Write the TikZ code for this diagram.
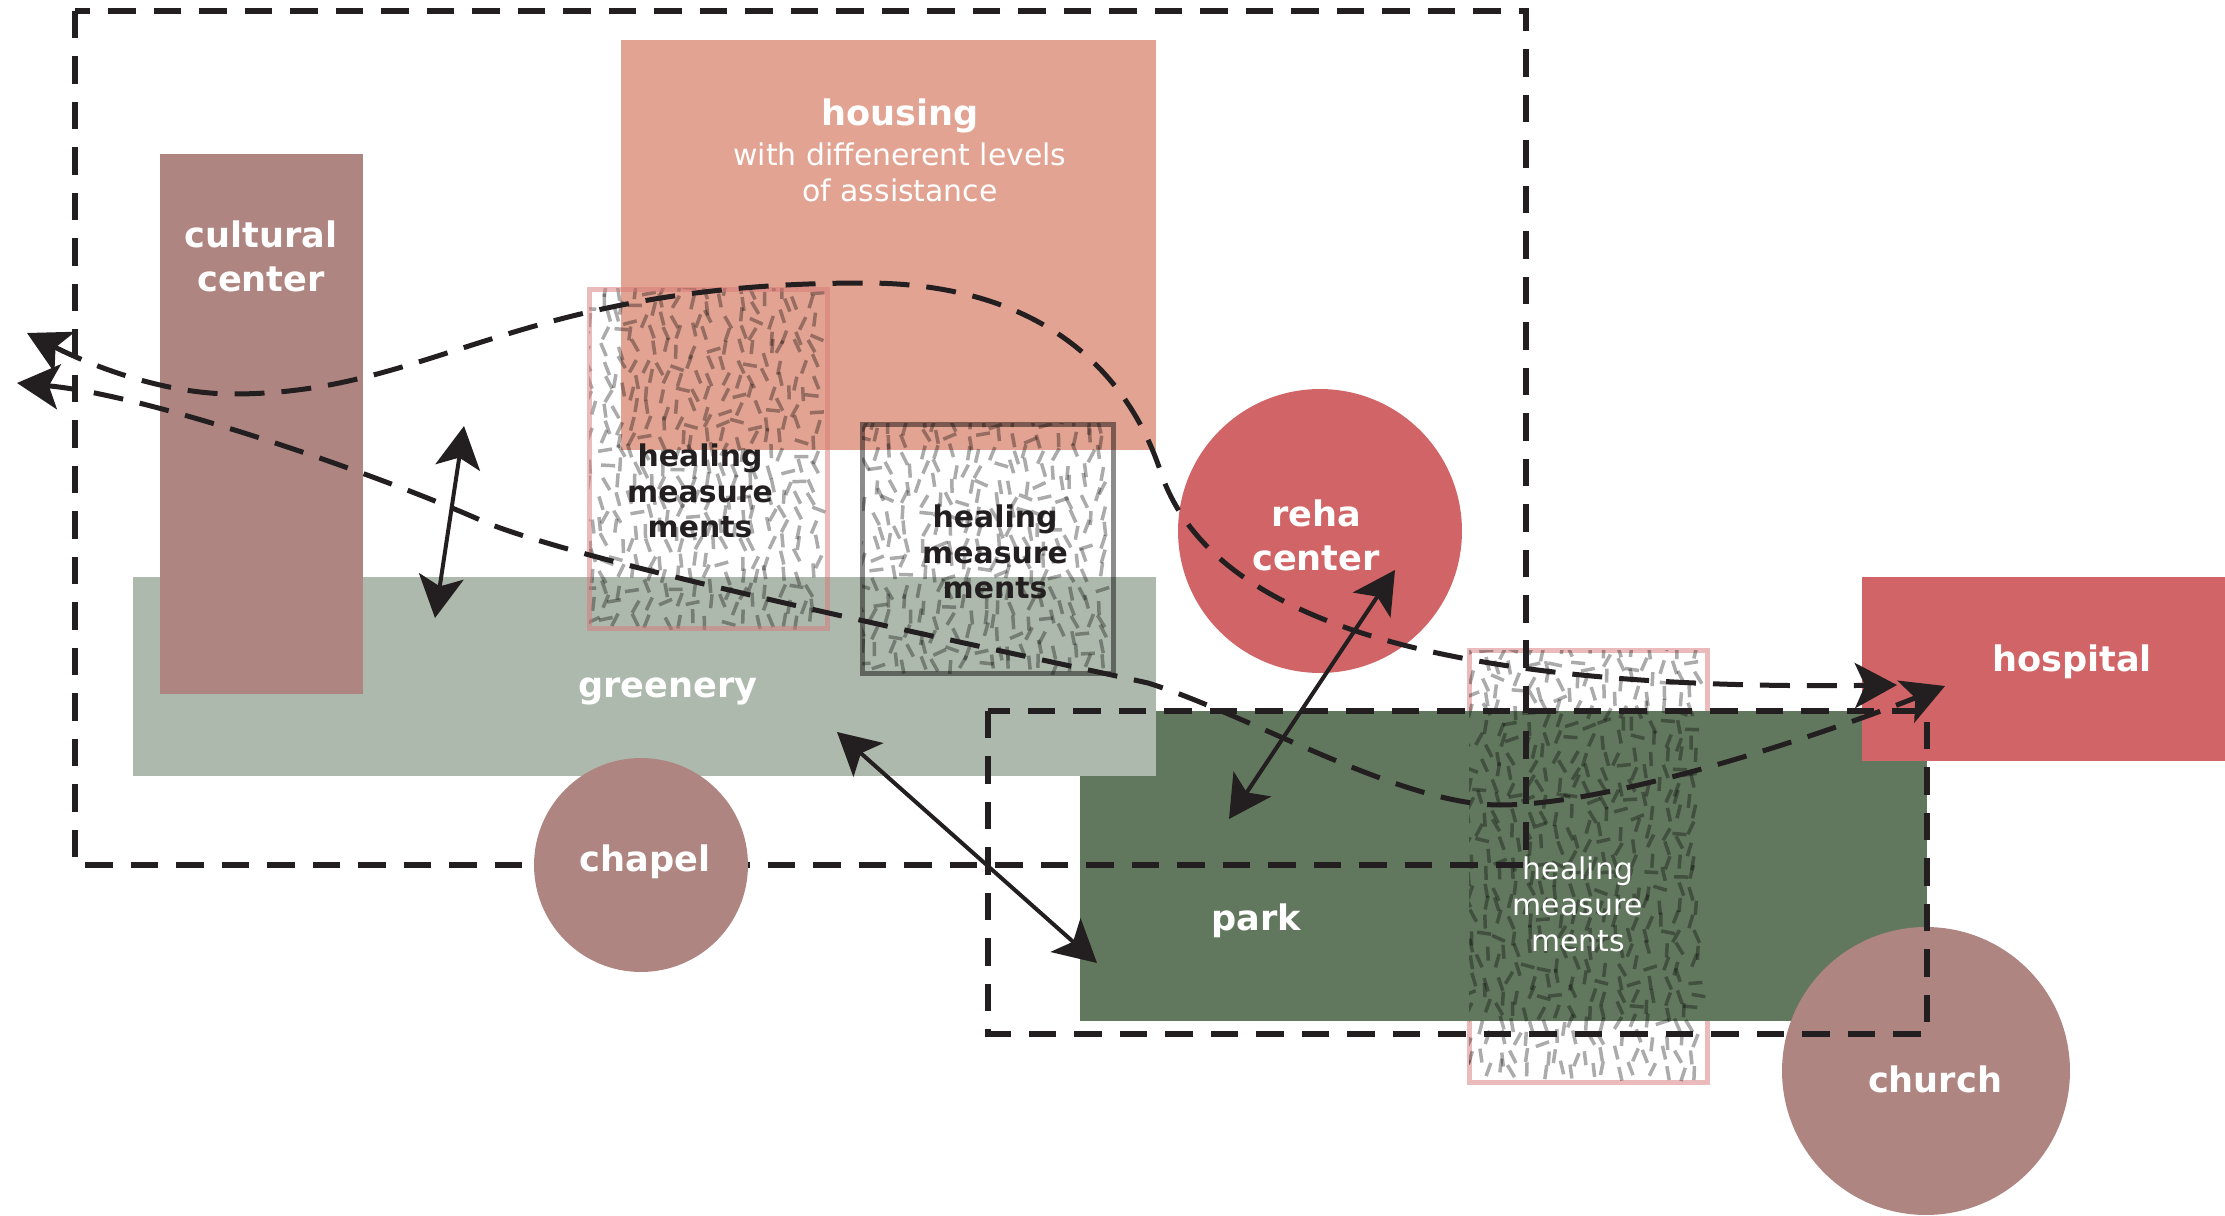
\documentclass[tikz,border=0pt]{standalone}
\usepackage{fontspec}
\setmainfont{DejaVu Sans}
\usetikzlibrary{arrows.meta}

\definecolor{ink}{HTML}{231F20}
\definecolor{housingc}{HTML}{E2A392}
\definecolor{mauve}{HTML}{AE8580}
\definecolor{greenc}{HTML}{AEB9AD}
\definecolor{parkc}{HTML}{62785E}
\definecolor{redc}{HTML}{D16466}
\definecolor{healpink}{HTML}{D77878}

\tikzset{
  bigtip/.tip={Stealth[length=0.84cm,width=0.9cm,inset=0.2cm]},
  area/.style={rectangle, inner sep=0pt, outer sep=0pt},
  disc/.style={circle, inner sep=0pt, outer sep=0pt},
  healbox/.style={area, line width=0.1cm, draw opacity=0.5},
  zone/.style={draw=ink, line width=0.11cm, dash pattern=on 0.55cm off 0.36cm},
  flow/.style={ink, line width=0.1cm, dash pattern=on 0.6cm off 0.34cm, bigtip-bigtip},
  link/.style={ink, line width=0.08cm, bigtip-bigtip},
  healmark/.style={black, opacity=0.33, line width=0.07cm},
  lab/.style={text=white, align=center, font=\bfseries\fontsize{20}{25}\selectfont},
  sublab/.style={text=white, align=center, font=\fontsize{17}{20.5}\selectfont},
  healtext/.style={text=ink, align=center, font=\bfseries\fontsize{17}{20}\selectfont}
}

% textura de las medidas curativas
\newcommand{\healfill}[4]{%
  \begin{scope}
    \clip (#1,#2) rectangle (#3,#4);
    \pgfmathtruncatemacro{\nx}{(#3-#1)/15}
    \pgfmathtruncatemacro{\ny}{(#4-#2)/15}
    \foreach \i in {0,...,\nx}{
      \foreach \j in {0,...,\ny}{
        \pgfmathsetmacro{\hx}{#1+15*\i+5*rand}
        \pgfmathsetmacro{\hy}{#2+15*\j+5*rand}
        \pgfmathsetmacro{\ha}{rnd<0.15 ? 25*rand : 90+32*rand}
        \draw[healmark] (\hx,\hy) ++(\ha:7) -- ++(\ha:-14);
      }
    }
  \end{scope}}

\begin{document}
\begin{tikzpicture}[x=0.02cm, y=-0.02cm]
    \pgfmathsetseed{12}
    \useasboundingbox (0,0) rectangle (2225,1216);

    % Borde bajo el parque
    \node[healbox, draw=healpink, minimum width=4.78cm, minimum height=8.66cm] (heal3) at (1588.5,866.5) {};

    % Zonas
    \node[area, fill=parkc, minimum width=16.94cm, minimum height=6.2cm] (park) at (1503.5,866) {};
    \node[area, fill=housingc, minimum width=10.7cm, minimum height=8.2cm] (housing) at (888.5,245) {};
    \node[area, fill=greenc, minimum width=20.46cm, minimum height=3.98cm] (greenery) at (644.5,676.5) {};
    \node[area, fill=mauve, minimum width=4.06cm, minimum height=10.8cm] (cultural) at (261.5,424) {};

    % Medidas curativas
    \healfill{589}{289}{828}{629}
    \healfill{862}{424}{1114}{674}
    \healfill{1469}{650}{1708}{1083}
    \node[healbox, draw=healpink, minimum width=4.78cm, minimum height=6.8cm] (heal1) at (708.5,459) {};
    \node[healbox, draw=black, draw opacity=0.45, minimum width=5.04cm, minimum height=5cm] (heal2) at (988,549) {};

    \node[disc, fill=redc, minimum size=5.68cm] (reha) at (1320,531) {};
    \node[area, fill=redc, minimum width=7.26cm, minimum height=3.68cm] (hospital) at (2043.5,669) {};

    % Recintos
    \draw[zone] (75,11) rectangle (1526,865);
    \node[disc, fill=mauve, minimum size=4.28cm] (chapel) at (641,865) {};
    \node[disc, fill=mauve, minimum size=5.76cm] (church) at (1926,1071) {};
    \draw[zone] (988,711) rectangle (1927,1034);

    % Recorridos
    \coordinate (westA) at (27,333);
    \coordinate (westB) at (17,383);
    \coordinate (hospA) at (1897,685);
    \coordinate (hospB) at (1945,686);
    \draw[flow] (westA) .. controls (100,370) and (170,394) .. (233,394)
        .. controls (433,394) and (515,283) .. (865,283)
        .. controls (1050,283) and (1130,380) .. (1160,470)
        .. controls (1215,640) and (1500,690) .. (hospA);
    \draw[flow] (westB) .. controls (150,395) and (380,475) .. (487,523)
        .. controls (600,568) and (1000,650) .. (1148,683)
        .. controls (1250,715) and (1400,805) .. (1500,805)
        .. controls (1620,805) and (1845,726) .. (hospB);

    % Conexiones
    \coordinate (culTop) at (464,426);
    \coordinate (greenTop) at (435,618);
    \coordinate (greenLow) at (837,732);
    \coordinate (parkWest) at (1097,963);
    \coordinate (rehaLow) at (1395,570);
    \coordinate (parkTop) at (1229,819);
    \draw[link] (culTop) -- (greenTop);
    \draw[link] (greenLow) -- (parkWest);
    \draw[link] (rehaLow) -- (parkTop);

    % Etiquetas
    \node[lab] (housingL) at (900,116) {housing};
    \node[sublab] (housingS) at (900,172) {with diffenerent levels\\of assistance};
    \node[lab] (culturalL) at (261,256) {cultural\\center};
    \node[healtext] (heal1L) at (700,491) {healing\\measure\\ments};
    \node[healtext] (heal2L) at (995,552) {healing\\measure\\ments};
    \node[lab] (rehaL) at (1316,535) {reha\\center};
    \node[lab] (hospitalL) at (2072,662) {hospital};
    \node[lab] (greeneryL) at (668,691) {greenery};
    \node[lab] (chapelL) at (645,862) {chapel};
    \node[lab] (parkL) at (1256,921) {park};
    \node[sublab] (heal3L) at (1578,904) {healing\\measure\\ments};
    \node[lab] (churchL) at (1935,1079) {church};

\end{tikzpicture}
\end{document}
